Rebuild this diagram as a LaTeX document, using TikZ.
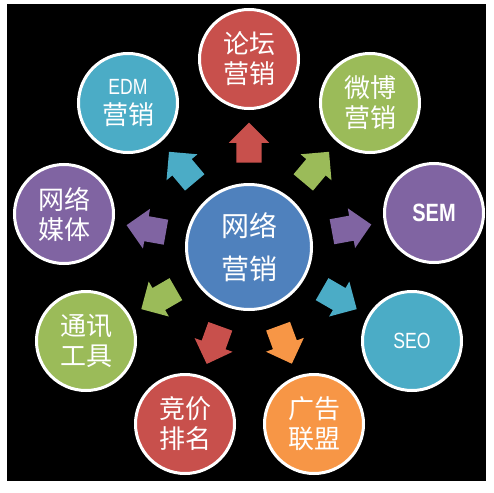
\documentclass[tikz,border=0pt]{standalone}
\usepackage{fontspec}
\usepackage{xcolor}
\usepackage{tikz}
\usetikzlibrary{shapes.arrows, calc}
\newfontfamily\cjk{Noto Sans CJK SC}
\newfontfamily\narrowfont[FakeStretch=0.8]{Liberation Sans}
\definecolor{mkred}{HTML}{C8504C}
\definecolor{mkcyan}{HTML}{4BACC6}
\definecolor{mkgreen}{HTML}{9BBB59}
\definecolor{mkpurple}{HTML}{8064A2}
\definecolor{mkblue}{HTML}{4F81BD}
\definecolor{mkorange}{HTML}{F79646}

\begin{document}
\begin{tikzpicture}[x=1pt, y=-1pt,
    topic/.style={circle, draw=white, line width=3pt, minimum size=99pt, inner sep=0pt, text=white, align=center, font=\cjk\fontsize{26}{30}\selectfont},
    hubtopic/.style={topic, minimum size=125pt, font=\cjk\fontsize{28}{43}\selectfont},
    push/.style={single arrow, minimum height=40pt, minimum width=40pt, single arrow head extend=7.5pt, inner xsep=0pt, inner ysep=12.5pt}
]
    \useasboundingbox[fill=white] (0,0) rectangle (494,492);
    \fill[black] (7,4) rectangle (486,481);

    \node[hubtopic, fill=mkblue] (hub) at (249,247) {网络\\营销};

    \node[topic, fill=mkred] (forum) at (249,59) {论坛\\营销};
    \node[topic, fill=mkcyan] (edm) at (128,103) {{\narrowfont\fontsize{22}{29}\selectfont EDM}\\营销};
    \node[topic, fill=mkgreen] (weibo) at (370,103) {微博\\营销};
    \node[topic, fill=mkpurple] (sem) at (434,213) {\narrowfont\bfseries\fontsize{25}{30}\selectfont SEM};
    \node[topic, fill=mkpurple] (media) at (64,214) {网络\\媒体};
    \node[topic, fill=mkgreen] (im) at (86,341) {通讯\\工具};
    \node[topic, fill=mkcyan] (seo) at (412,341) {\narrowfont\fontsize{22}{30}\selectfont SEO};
    \node[topic, fill=mkred] (bid) at (185,424) {竞价\\排名};
    \node[topic, fill=mkorange] (union) at (314,424) {广告\\联盟};

    % arrows from the hub towards each topic
    \path let \p1 = ($(forum)-(hub)$), \n1 = {atan2(\y1,\x1)} in node[push, fill=mkred, rotate=\n1] (toforum) at ($(hub)!98pt!(forum)$) {};
    \path let \p1 = ($(edm)-(hub)$), \n1 = {atan2(\y1,\x1)} in node[push, fill=mkcyan, rotate=\n1] (toedm) at ($(hub)!98pt!(edm)$) {};
    \path let \p1 = ($(weibo)-(hub)$), \n1 = {atan2(\y1,\x1)} in node[push, fill=mkgreen, rotate=\n1] (toweibo) at ($(hub)!98pt!(weibo)$) {};
    \path let \p1 = ($(sem)-(hub)$), \n1 = {atan2(\y1,\x1)} in node[push, fill=mkpurple, rotate=\n1] (tosem) at ($(hub)!98pt!(sem)$) {};
    \path let \p1 = ($(media)-(hub)$), \n1 = {atan2(\y1,\x1)} in node[push, fill=mkpurple, rotate=\n1] (tomedia) at ($(hub)!98pt!(media)$) {};
    \path let \p1 = ($(im)-(hub)$), \n1 = {atan2(\y1,\x1)} in node[push, fill=mkgreen, rotate=\n1] (toim) at ($(hub)!98pt!(im)$) {};
    \path let \p1 = ($(seo)-(hub)$), \n1 = {atan2(\y1,\x1)} in node[push, fill=mkcyan, rotate=\n1] (toseo) at ($(hub)!98pt!(seo)$) {};
    \path let \p1 = ($(bid)-(hub)$), \n1 = {atan2(\y1,\x1)} in node[push, fill=mkred, rotate=\n1] (tobid) at ($(hub)!98pt!(bid)$) {};
    \path let \p1 = ($(union)-(hub)$), \n1 = {atan2(\y1,\x1)} in node[push, fill=mkorange, rotate=\n1] (tounion) at ($(hub)!98pt!(union)$) {};
\end{tikzpicture}
\end{document}
